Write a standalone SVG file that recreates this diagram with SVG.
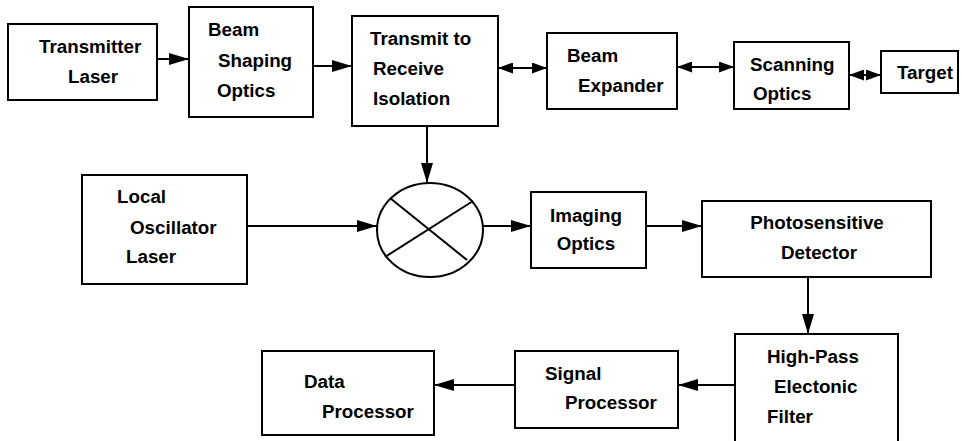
<svg xmlns="http://www.w3.org/2000/svg" width="962" height="441" viewBox="0 0 962 441">
<style>
.box{fill:#fff;stroke:#000;stroke-width:2}
.t{font-family:"Liberation Sans",Arial,sans-serif;font-weight:bold;font-size:18.8px;fill:#000}
.c{fill:none;stroke:#000;stroke-width:2}
</style>
<defs>
<marker id="ah" viewBox="0 0 20 12" refX="20" refY="6" markerWidth="20" markerHeight="12" markerUnits="userSpaceOnUse" orient="auto-start-reverse">
<path d="M0,0 L20,6 L0,12 z" fill="#000"/>
</marker>
<marker id="ah2" viewBox="0 0 15 11" refX="15" refY="5.5" markerWidth="15" markerHeight="11" markerUnits="userSpaceOnUse" orient="auto-start-reverse">
<path d="M0,0 L15,5.5 L0,11 z" fill="#000"/>
</marker>
</defs>
<rect width="962" height="441" fill="#fff"/>
<g id="connectors">
<line class="c" x1="157" y1="59" x2="189" y2="59" marker-end="url(#ah)"/>
<line class="c" x1="313" y1="66" x2="352" y2="66" marker-end="url(#ah)"/>
<line class="c" x1="498" y1="68" x2="547" y2="68" marker-start="url(#ah2)" marker-end="url(#ah2)"/>
<line class="c" x1="677" y1="67" x2="734" y2="67" marker-start="url(#ah2)" marker-end="url(#ah2)"/>
<line class="c" x1="849" y1="75" x2="881" y2="75" marker-start="url(#ah2)" marker-end="url(#ah2)"/>
<line class="c" x1="427" y1="126" x2="427" y2="183" marker-end="url(#ah)"/>
<line class="c" x1="247" y1="226" x2="377" y2="226" marker-end="url(#ah)"/>
<line class="c" x1="483" y1="226" x2="531" y2="226" marker-end="url(#ah)"/>
<line class="c" x1="646" y1="226" x2="702" y2="226" marker-end="url(#ah)"/>
<line class="c" x1="808" y1="277" x2="808" y2="334" marker-end="url(#ah)"/>
<line class="c" x1="735" y1="385" x2="678" y2="385" marker-end="url(#ah)"/>
<line class="c" x1="515" y1="385" x2="434" y2="385" marker-end="url(#ah)"/>
</g>
<g id="transmitter-laser">
<rect class="box" x="8" y="24" width="149" height="76"/>
<text class="t" x="39" y="53">Transmitter</text>
<text class="t" x="68" y="83">Laser</text>
</g>
<g id="beam-shaping">
<rect class="box" x="189" y="7" width="124" height="110"/>
<text class="t" x="208" y="36">Beam</text>
<text class="t" x="218" y="67">Shaping</text>
<text class="t" x="217" y="97">Optics</text>
</g>
<g id="isolation">
<rect class="box" x="352" y="16" width="146" height="110"/>
<text class="t" x="370" y="45">Transmit to</text>
<text class="t" x="373" y="75">Receive</text>
<text class="t" x="373" y="105">Isolation</text>
</g>
<g id="beam-expander">
<rect class="box" x="547" y="33" width="130" height="76"/>
<text class="t" x="567" y="62">Beam</text>
<text class="t" x="578" y="92">Expander</text>
</g>
<g id="scanning-optics">
<rect class="box" x="734" y="42" width="115" height="67"/>
<text class="t" x="750" y="71">Scanning</text>
<text class="t" x="753" y="100">Optics</text>
</g>
<g id="target">
<rect class="box" x="881" y="51" width="77" height="42"/>
<text class="t" x="897" y="79">Target</text>
</g>
<g id="mixer">
<ellipse class="c" cx="430" cy="230" rx="53" ry="47"/>
<line class="c" x1="390" y1="198" x2="467" y2="260"/>
<line class="c" x1="473" y1="201" x2="385" y2="257"/>
</g>
<g id="local-oscillator">
<rect class="box" x="82" y="175" width="165" height="109"/>
<text class="t" x="117" y="203">Local</text>
<text class="t" x="130" y="234">Oscillator</text>
<text class="t" x="126" y="263">Laser</text>
</g>
<g id="imaging-optics">
<rect class="box" x="531" y="192" width="115" height="76"/>
<text class="t" x="586" y="222" text-anchor="middle">Imaging</text>
<text class="t" x="586" y="250" text-anchor="middle">Optics</text>
</g>
<g id="detector">
<rect class="box" x="702" y="201" width="229" height="76"/>
<text class="t" x="817" y="229" text-anchor="middle">Photosensitive</text>
<text class="t" x="819" y="259" text-anchor="middle">Detector</text>
</g>
<g id="high-pass">
<rect class="box" x="735" y="334" width="163" height="120"/>
<text class="t" x="767" y="363">High-Pass</text>
<text class="t" x="774" y="393">Electonic</text>
<text class="t" x="767" y="423">Filter</text>
</g>
<g id="signal-processor">
<rect class="box" x="515" y="351" width="163" height="77"/>
<text class="t" x="545" y="380">Signal</text>
<text class="t" x="565" y="409">Processor</text>
</g>
<g id="data-processor">
<rect class="box" x="262" y="351" width="172" height="84"/>
<text class="t" x="304" y="388">Data</text>
<text class="t" x="322" y="418">Processor</text>
</g>
</svg>
